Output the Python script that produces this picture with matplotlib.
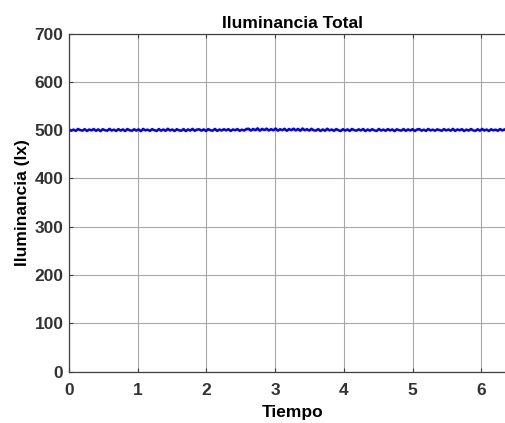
import matplotlib
matplotlib.use("Agg")
import matplotlib.pyplot as plt
import numpy as np

plt.rcParams["font.family"] = ["Liberation Sans", "DejaVu Sans"]
plt.rcParams["font.weight"] = "bold"

# Sample period of the logged illuminance readings
DT = 6.5 / 199

# Total illuminance readings (lx)
ILUMINANCIA = [
    501.8, 498.6, 501.2, 498.3, 502.4, 500.1, 498.9, 502.0, 498.2, 501.3,
    499.4, 502.2, 498.5, 501.6, 497.9, 501.9, 499.8, 498.7, 502.6, 499.2,
    501.0, 498.3, 502.1, 499.0, 501.5, 498.1, 502.3, 499.7, 498.6, 501.8,
    499.0, 501.6, 497.8, 502.5, 499.5, 501.1, 498.4, 502.0, 499.9, 498.2,
    502.3, 498.8, 501.4, 498.5, 502.8, 499.3, 501.3, 498.2, 501.9, 499.6,
    498.7, 502.2, 498.0, 501.5, 499.1, 502.6, 498.6, 501.2, 501.7, 498.8,
    501.6, 498.1, 502.1, 499.7, 498.9, 502.5, 498.4, 501.3, 499.2, 501.9,
    499.5, 502.0, 498.3, 501.4, 499.8, 502.2, 498.6, 501.0, 499.1, 502.4,
    502.9, 499.0, 502.4, 499.8, 503.7, 498.8, 502.6, 500.1, 503.1, 499.3,
    502.0, 499.6, 503.3, 498.9, 501.8, 500.0, 502.7, 498.6, 502.3, 499.9,
    503.0, 499.4, 502.5, 498.7, 503.4, 499.8, 501.9, 499.0, 502.8, 499.5,
    499.2, 502.1, 498.2, 501.5, 498.7, 502.9, 499.4, 501.3, 498.5, 502.2,
    499.8, 498.1, 502.0, 499.0, 501.6, 498.3, 502.4, 500.0, 498.9, 501.7,
    499.3, 502.3, 498.0, 501.4, 498.8, 501.9, 499.6, 498.3, 502.5, 499.1,
    501.2, 498.6, 502.1, 499.4, 501.5, 497.9, 501.8, 499.9, 498.9, 502.3,
    498.5, 501.6, 499.2, 502.0, 498.2, 501.3, 502.2, 498.8, 501.0, 498.4,
    502.4, 499.3, 501.1, 498.7, 501.7, 500.2, 498.6, 502.1, 499.4, 501.4,
    498.9, 502.6, 498.3, 501.5, 499.7, 502.0, 498.1, 501.2, 499.0, 502.3,
    499.6, 498.4, 501.9, 498.8, 502.5, 499.1, 501.3, 498.2, 501.8, 499.5,
    501.0, 498.7, 502.2, 499.3, 501.6, 498.5, 502.0, 499.8, 498.9, 501.4,
]

X_TICKS = [0, 1, 2, 3, 4, 5, 6]
Y_TICKS = [0, 100, 200, 300, 400, 500, 600, 700]

t = np.arange(len(ILUMINANCIA)) * DT

fig = plt.figure(figsize=(5.06, 4.23), dpi=100)
ax = fig.add_axes([0.1364, 0.1213, 0.883, 0.7995])

ax.plot(t, ILUMINANCIA, color="#0000ff", linewidth=1.8)

ax.set_xlim(0, 6.5)
ax.set_ylim(0, 700)
ax.set_xticks(X_TICKS)
ax.set_yticks(Y_TICKS)
ax.grid(True, color="#a8a8a8", linewidth=0.8)
ax.set_axisbelow(True)

for side in ax.spines.values():
    side.set_color("#404040")
    side.set_linewidth(0.9)

ax.tick_params(direction="in", length=3, width=0.8, colors="#404040",
               top=True, right=True, labelsize=12.5, labelcolor="#333333")
ax.tick_params(axis="x", pad=8)
ax.tick_params(axis="y", pad=4)

ax.set_title("Iluminancia Total", fontsize=12.5, fontweight="bold", pad=4)
ax.set_xlabel("Tiempo", fontsize=12.5, fontweight="bold", labelpad=5)
ax.set_ylabel("Iluminancia (lx)", fontsize=12.5, fontweight="bold", labelpad=3)

fig.savefig("out.png", dpi=100)
